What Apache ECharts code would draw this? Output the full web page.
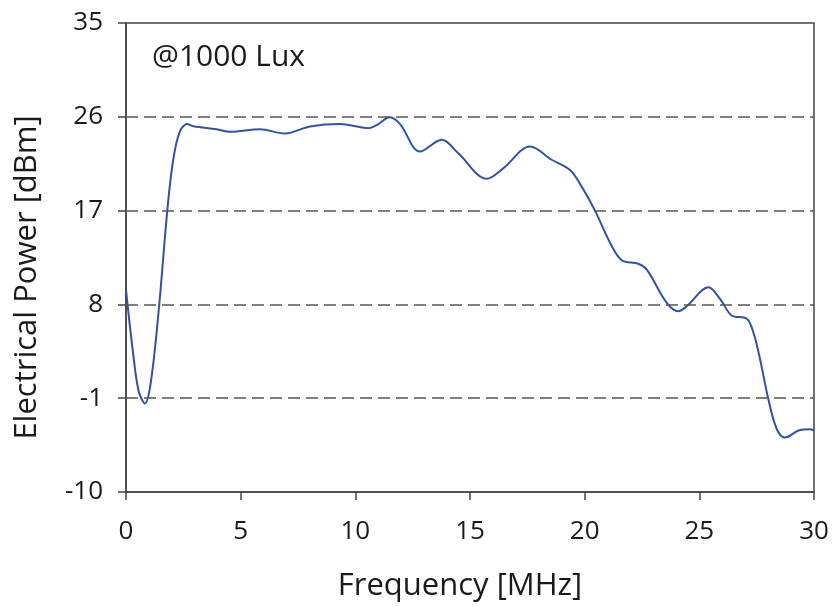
<!DOCTYPE html>
<html>
<head>
<meta charset="utf-8">
<script src="https://cdn.jsdelivr.net/npm/echarts@6/dist/echarts.min.js"></script>
<style>html,body{margin:0;padding:0;background:#fff}#c{width:837px;height:607px}</style>
</head>
<body>
<div id="c"></div>
<script>
var freq = [0, 0.3, 0.55, 0.83, 1.1, 1.45, 1.8, 2.06, 2.35, 2.67, 2.94, 3.95, 4.54, 5.84, 6.93, 8.02, 9.33, 9.77, 10.57, 10.93, 11.51, 11.95, 12.82, 13.77, 14.49, 15.73, 16.46, 17.62, 18.56, 19.36, 19.87, 20.45, 21.11, 21.62, 22.34, 22.71, 23.58, 24.09, 24.45, 25.4, 25.92, 26.41, 27.07, 27.36, 27.65, 28.01, 28.38, 28.74, 29.39, 29.83, 30];
var power = [9.4, 3.5, -0.3, -1.5, 0.8, 8.0, 17.0, 21.9, 24.6, 25.3, 25.1, 24.8, 24.56, 24.8, 24.4, 25.07, 25.3, 25.2, 24.9, 25.2, 25.96, 25.3, 22.67, 23.8, 22.5, 20.06, 21.08, 23.15, 21.88, 20.9, 19.3, 17.0, 13.9, 12.23, 11.9, 11.34, 8.15, 7.35, 7.83, 9.65, 8.47, 6.94, 6.62, 5.28, 2.72, -1.1, -3.98, -4.78, -4.05, -3.98, -4.1];
var yTicks = [-10, -1, 8, 17, 26, 35];
var yGridLines = [-1, 8, 17, 26];
var xTicks = [0, 5, 10, 15, 20, 25, 30];
var annotation = '@1000 Lux';
var xName = 'Frequency [MHz]';
var yName = 'Electrical Power [dBm]';

var data = freq.map(function (f, i) { return [f, power[i]]; });
var chart = echarts.init(document.getElementById('c'), null, {renderer: 'canvas'});
var FONT = 'Open Sans, Noto Sans, sans-serif';
var labelFont = {fontFamily: FONT, fontSize: 26, color: '#1a1a1a'};
chart.setOption({
  animation: false,
  grid: {left: 126, right: 23, top: 23, bottom: 114, show: true, borderColor: '#444', borderWidth: 1.5, backgroundColor: 'transparent'},
  title: {text: annotation, left: 147, top: 37, textStyle: {fontFamily: FONT, fontSize: 30, fontWeight: 'normal', color: '#1a1a1a'}},
  xAxis: {
    type: 'value', min: 0, max: 30, interval: 5,
    name: xName, nameLocation: 'middle', nameGap: 79,
    nameTextStyle: {fontFamily: FONT, fontSize: 31, color: '#1a1a1a', padding: [0, 20, 0, 0]},
    axisLine: {onZero: false, lineStyle: {color: '#444', width: 1.5}},
    axisTick: {show: true, inside: false, length: 8, lineStyle: {color: '#444', width: 1.5}, customValues: xTicks},
    axisLabel: Object.assign({margin: 27, customValues: xTicks}, labelFont),
    splitLine: {show: false}
  },
  yAxis: {
    type: 'value', min: -10, max: 35,
    name: yName, nameLocation: 'middle', nameGap: 83,
    nameTextStyle: {fontFamily: FONT, fontSize: 31, color: '#1a1a1a', padding: [0, 40, 0, 0]},
    axisLine: {show: true, onZero: false, lineStyle: {color: '#444', width: 1.5}},
    axisTick: {show: true, length: 8, lineStyle: {color: '#444', width: 1.5}, customValues: yTicks},
    axisLabel: Object.assign({margin: 23, customValues: yTicks}, labelFont),
    splitLine: {show: false}
  },
  series: [{
    type: 'line', data: data, smooth: 0.35, showSymbol: false,
    lineStyle: {color: '#3153a6', width: 2},
    markLine: {
      silent: true, symbol: 'none', label: {show: false},
      lineStyle: {color: '#555', type: [12, 6], width: 1.5},
      data: yGridLines.map(function (v) { return {yAxis: v}; })
    }
  }]
});
</script>
</body>
</html>
